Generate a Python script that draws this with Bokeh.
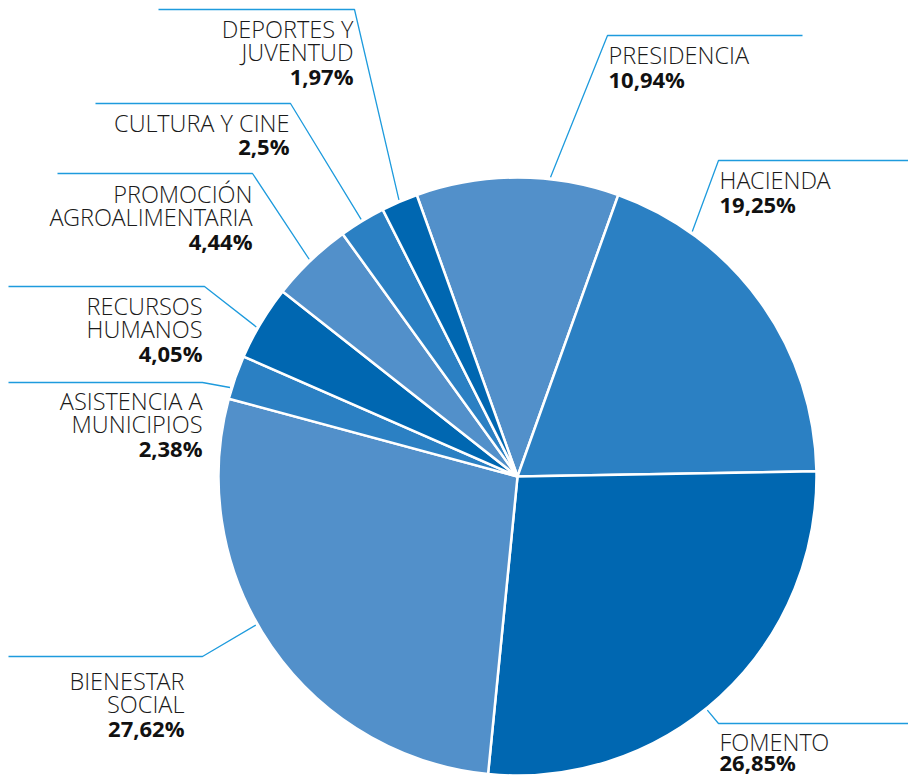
import math
from bokeh.plotting import figure
from bokeh.models import ColumnDataSource, Range1d
from bokeh.core.properties import value
from bokeh.embed import file_html
from bokeh.resources import INLINE

# ---- data ----
categories = ["PRESIDENCIA", "HACIENDA", "FOMENTO", "BIENESTAR\nSOCIAL",
              "ASISTENCIA A\nMUNICIPIOS", "RECURSOS\nHUMANOS",
              "PROMOCIÓN\nAGROALIMENTARIA", "CULTURA Y CINE", "DEPORTES Y\nJUVENTUD"]
values = [10.94, 19.25, 26.85, 27.62, 2.38, 4.05, 4.44, 2.5, 1.97]
colors = ["#5290CA", "#2B80C3", "#0067B1", "#5290CA", "#2B80C3",
          "#0067B1", "#5290CA", "#2B80C3", "#0067B1"]

# ---- layout (screen pixels, y down) ----
W, H = 908, 777
CX, CY, R = 517, 476, 299
start_cw = -values[0] * 3.6 / 2          # first slice centred at top

# leader: elbow x, elbow y, far end x, attach angle (deg clockwise from top), text x, align, first baseline offset, line height
leaders = [
    (607, 35, 802, 6.3, 608, "left", 19, 24),
    (718, 160, 908, 35.5, 719, "left", 19, 24),
    (718, 723, 908, 140.9, 719, "left", 18, 20),
    (202, 656, 8, 240.4, 184, "right", 24, 23.5),
    (202, 382, 8, 287.2, 202, "right", 18, 23.5),
    (204, 286, 8, 299.8, 202, "right", 19, 23.5),
    (252, 173, 57, 316.2, 252, "right", 20, 23.5),
    (290, 103, 95, 328.7, 289, "right", 19, 23.5),
    (354, 9, 158, 336.8, 353, "right", 19, 23.5),
]


def Y(sy):
    return H - sy


p = figure(width=W, height=H, x_range=Range1d(0, W), y_range=Range1d(0, H),
           output_backend="svg", toolbar_location=None, min_border=0)
p.axis.visible = False
p.grid.visible = False
p.outline_line_color = None
p.background_fill_color = "white"
p.border_fill_color = "white"

# wedges
starts, ends = [], []
acc = start_cw
for v in values:
    a0 = acc
    a1 = acc + v * 3.6
    starts.append(math.radians(90 - a0))
    ends.append(math.radians(90 - a1))
    acc = a1
src = ColumnDataSource(dict(start=starts, end=ends, color=colors))
p.wedge(x=CX, y=Y(CY), radius=R, start_angle="start", end_angle="end",
        direction="clock", fill_color="color", line_color="white",
        line_width=2.5, source=src)

# leaders
xs, ys = [], []
for ex, ey, fx, ang, tx, al, off, lh in leaders:
    a = math.radians(ang)
    px = CX + (R + 2) * math.sin(a)
    py = CY - (R + 2) * math.cos(a)
    xs.append([px, ex, fx])
    ys.append([Y(py), Y(ey), Y(ey)])
p.multi_line(xs=xs, ys=ys, line_color="#1E9BDD", line_width=1.3)

# texts
nx, ny, nt, na = [], [], [], []
bx, by, bt, ba = [], [], [], []
for cat, v, (ex, ey, fx, ang, tx, al, off, lh) in zip(categories, values, leaders):
    lines = cat.split("\n")
    base = ey + off
    for i, ln in enumerate(lines):
        nx.append(tx); ny.append(Y(base + i * lh)); nt.append(ln); na.append(al)
    bx.append(tx); by.append(Y(base + len(lines) * lh))
    bt.append(str(v).replace(".", ",") + "%"); ba.append(al)

p.text(x=nx, y=ny, text=nt, text_align=na, text_baseline="alphabetic",
       text_font=value("Open Sans Light, Open Sans"), text_font_size="23.5px",
       text_color="#1a1a1a")
p.text(x=bx, y=by, text=bt, text_align=ba, text_baseline="alphabetic",
       text_font=value("Open Sans"), text_font_size="22px", text_font_style="bold",
       text_color="#111111")

open("out.html", "w").write(file_html(p, INLINE))
